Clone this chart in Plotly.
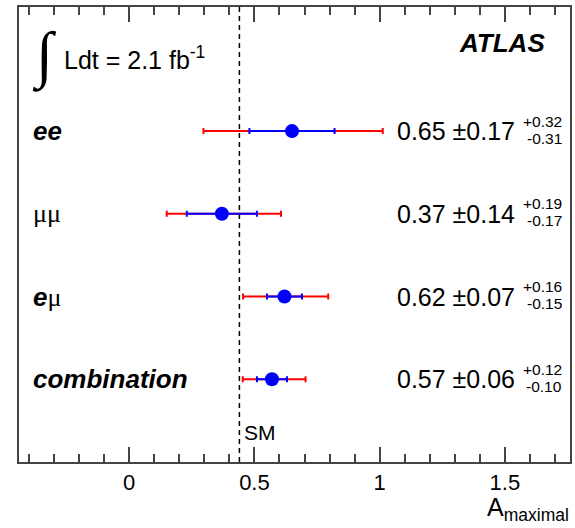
import numpy as np
import plotly.graph_objects as go

# ---- data ----
channel_labels = ["<b><i>ee</i></b>", "μμ", "<b><i>e</i></b>μ", "<b><i>combination</i></b>"]
a_max = [0.65, 0.37, 0.62, 0.57]
stat = [0.17, 0.14, 0.07, 0.06]
syst_up = [0.32, 0.19, 0.16, 0.12]
syst_dn = [0.31, 0.17, 0.15, 0.10]
rows = [4, 3, 2, 1]
sm_value = 0.44
x_tickvals = [0, 0.5, 1, 1.5]
x_ticktext = ["0", "0.5", "1", "1.5"]
lumi_text = "Ldt = 2.1 fb<sup>-1</sup>"

# total uncertainty = stat (+) syst in quadrature
tot_up = np.sqrt(np.array(stat) ** 2 + np.array(syst_up) ** 2)
tot_dn = np.sqrt(np.array(stat) ** 2 + np.array(syst_dn) ** 2)

W, H = 575, 528
L, R, T, B = 19, 572, 7, 462
def px(x):
    return (x - L) / (R - L)
def py(y):
    return (B - y) / (B - T)

FONT = "Liberation Sans, Arial, Helvetica, sans-serif"
SERIF = "Liberation Serif, DejaVu Serif, serif"

fig = go.Figure()
fig.add_trace(go.Scatter(
    x=a_max, y=rows, mode="markers",
    marker=dict(size=1, color="rgba(0,0,0,0)"),
    error_x=dict(type="data", symmetric=False, array=tot_up, arrayminus=tot_dn,
                 color="#ff0000", thickness=2, width=3),
    showlegend=False, hoverinfo="skip"))
fig.add_trace(go.Scatter(
    x=a_max, y=rows, mode="markers",
    marker=dict(size=14, color="#0000ff"),
    error_x=dict(type="data", array=stat, color="#0000ff", thickness=2, width=3),
    showlegend=False))

fig.add_shape(type="line", x0=sm_value, x1=sm_value, y0=0, y1=5.5, xref="x", yref="y",
              line=dict(color="black", width=1.5, dash="5px,4px"), layer="below")

ann = []
for lab, r, v, s, su, sd in zip(channel_labels, rows, a_max, stat, syst_up, syst_dn):
    if lab == "μμ":
        lab_html, fam = lab, SERIF
    else:
        lab_html, fam = lab.replace("μ", f"<span style='font-family:{SERIF}'>μ</span>"), FONT
    ann.append(dict(x=px(31), y=r, xref="paper", yref="y", text=lab_html, showarrow=False,
                    xanchor="left", yanchor="middle", font=dict(size=26, color="black", family=fam)))
    ann.append(dict(x=px(519), y=r, xref="paper", yref="y", text=f"{v:.2f} ±{s:.2f}", showarrow=False,
                    xanchor="right", yanchor="middle", font=dict(size=25, color="black", family=FONT)))
    ann.append(dict(x=px(566), y=r, xref="paper", yref="y", text=f"+{su:.2f}", showarrow=False,
                    xanchor="right", yanchor="middle", yshift=10, font=dict(size=15.5, color="black", family=FONT)))
    ann.append(dict(x=px(566), y=r, xref="paper", yref="y", text=f"-{sd:.2f}", showarrow=False,
                    xanchor="right", yanchor="middle", yshift=-7, font=dict(size=15.5, color="black", family=FONT)))

ann.append(dict(x=sm_value, y=py(432), xref="x", yref="paper", text="SM", showarrow=False,
                xanchor="left", yanchor="middle", xshift=3, font=dict(size=21, color="black", family=FONT)))
ann.append(dict(x=px(45), y=py(56), xref="paper", yref="paper", text="∫", showarrow=False,
                xanchor="center", yanchor="middle",
                font=dict(size=62, color="black", family=SERIF)))
ann.append(dict(x=px(62), y=py(58), xref="paper", yref="paper", text=lumi_text, showarrow=False,
                xanchor="left", yanchor="middle", font=dict(size=25, color="black", family=FONT)))
ann.append(dict(x=px(549), y=py(43), xref="paper", yref="paper", text="<b><i>ATLAS</i></b>", showarrow=False,
                xanchor="right", yanchor="middle", font=dict(size=26, color="black", family=FONT)))
ann.append(dict(x=px(573), y=py(509), xref="paper", yref="paper", text="A<sub>maximal</sub>", showarrow=False,
                xanchor="right", yanchor="middle", font=dict(size=25, color="black", family=FONT)))

fig.update_layout(
    width=W, height=H,
    margin=dict(l=L, r=W - R, t=T, b=H - B, pad=0),
    paper_bgcolor="white", plot_bgcolor="white",
    annotations=ann,
    xaxis=dict(range=[-0.44, 1.76], tickvals=x_tickvals, ticktext=x_ticktext,
               ticks="inside", ticklen=15, tickwidth=1.5, tickcolor="#444",
               minor=dict(dtick=0.1, tick0=0, ticks="inside", ticklen=8, tickwidth=1.5, tickcolor="#444"),
               showline=True, linecolor="#444", linewidth=2, mirror="allticks",
               showgrid=False, zeroline=False, ticklabelstandoff=0,
               tickfont=dict(size=22, color="black", family=FONT)),
    yaxis=dict(range=[0, 5.5], showline=True, linecolor="#444", linewidth=2, mirror=True,
               showticklabels=False, ticks="", showgrid=False, zeroline=False),
)

fig.write_html("out.html")
